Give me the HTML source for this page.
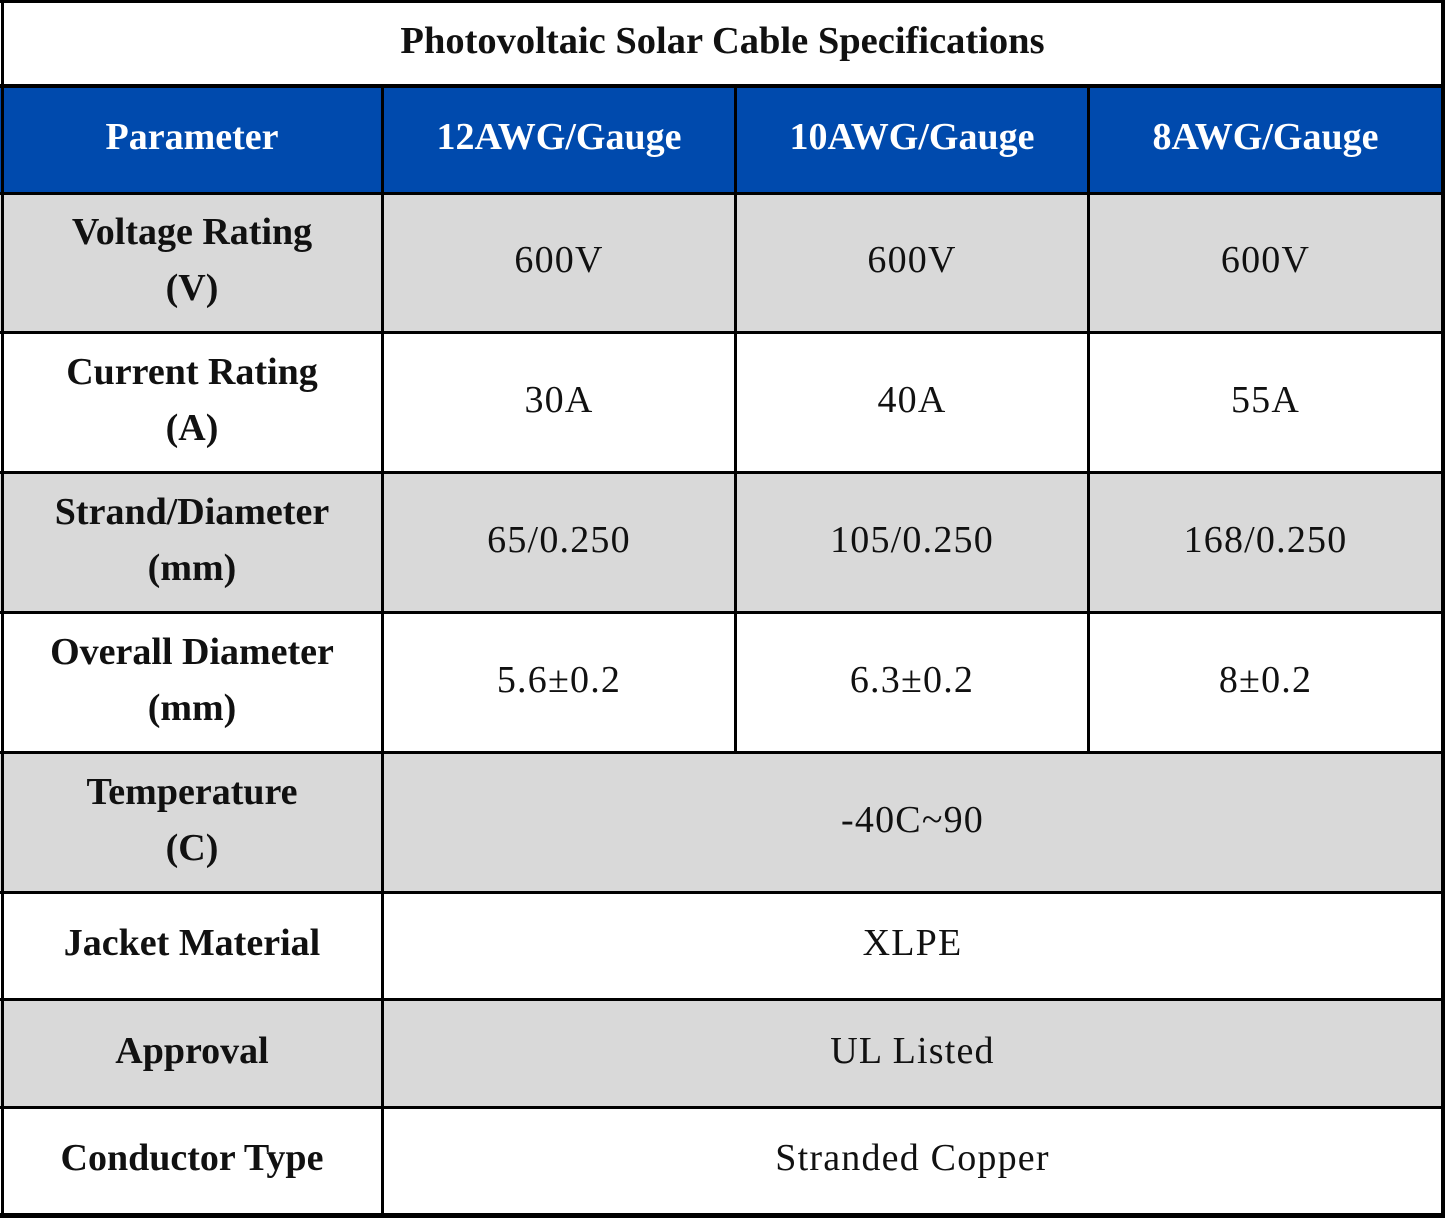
<!DOCTYPE html>
<html><head><meta charset="utf-8"><style>
body{margin:0;width:1445px;height:1218px;background:#fff;position:relative;overflow:hidden;font-family:"Liberation Serif",serif;}
.c{position:absolute;display:flex;align-items:center;justify-content:center;text-align:center;line-height:56px;font-size:38px;color:#111;letter-spacing:1.2px;}
.b{font-weight:bold;letter-spacing:0;}
.l{position:absolute;background:#000;}
.bg{position:absolute;}
</style></head><body>
<div class="bg" style="left:0;top:86px;width:1445px;height:108px;background:#004aad"></div>
<div class="bg" style="left:0;top:194px;width:1445px;height:139px;background:#d9d9d9"></div>
<div class="bg" style="left:0;top:473px;width:1445px;height:140px;background:#d9d9d9"></div>
<div class="bg" style="left:0;top:753px;width:1445px;height:140px;background:#d9d9d9"></div>
<div class="bg" style="left:0;top:1000px;width:1445px;height:108px;background:#d9d9d9"></div>
<div class="l" style="left:0;top:0;width:1445px;height:3px"></div>
<div class="l" style="left:0;top:84px;width:1445px;height:4px"></div>
<div class="l" style="left:0;top:192px;width:1445px;height:3px"></div>
<div class="l" style="left:0;top:331px;width:1445px;height:3px"></div>
<div class="l" style="left:0;top:471px;width:1445px;height:3px"></div>
<div class="l" style="left:0;top:611px;width:1445px;height:3px"></div>
<div class="l" style="left:0;top:751px;width:1445px;height:3px"></div>
<div class="l" style="left:0;top:891px;width:1445px;height:3px"></div>
<div class="l" style="left:0;top:998px;width:1445px;height:3px"></div>
<div class="l" style="left:0;top:1106px;width:1445px;height:3px"></div>
<div class="l" style="left:0;top:1213px;width:1445px;height:5px"></div>
<div class="l" style="left:1px;top:0;width:3px;height:1218px"></div>
<div class="l" style="left:1441px;top:0;width:4px;height:1218px"></div>
<div class="l" style="left:381px;top:86px;width:3px;height:1130px"></div>
<div class="l" style="left:734px;top:86px;width:3px;height:667px"></div>
<div class="l" style="left:1087px;top:86px;width:3px;height:667px"></div>
<div class="c b" style="left:0;top:0;width:1445px;height:81px;font-size:38.5px">Photovoltaic Solar Cable Specifications</div>
<div class="c b" style="left:3px;top:85px;width:378px;height:104px;color:#fff">Parameter</div>
<div class="c b" style="left:384px;top:85px;width:350px;height:104px;color:#fff">12AWG/Gauge</div>
<div class="c b" style="left:737px;top:85px;width:350px;height:104px;color:#fff">10AWG/Gauge</div>
<div class="c b" style="left:1090px;top:85px;width:351px;height:104px;color:#fff">8AWG/Gauge</div>
<div class="c b" style="left:3px;top:192px;width:378px;height:136px">Voltage Rating<br>(V)</div>
<div class="c" style="left:384px;top:192px;width:350px;height:136px">600V</div>
<div class="c" style="left:737px;top:192px;width:350px;height:136px">600V</div>
<div class="c" style="left:1090px;top:192px;width:351px;height:136px">600V</div>
<div class="c b" style="left:3px;top:331px;width:378px;height:137px">Current Rating<br>(A)</div>
<div class="c" style="left:384px;top:331px;width:350px;height:137px">30A</div>
<div class="c" style="left:737px;top:331px;width:350px;height:137px">40A</div>
<div class="c" style="left:1090px;top:331px;width:351px;height:137px">55A</div>
<div class="c b" style="left:3px;top:471px;width:378px;height:137px">Strand/Diameter<br>(mm)</div>
<div class="c" style="left:384px;top:471px;width:350px;height:137px">65/0.250</div>
<div class="c" style="left:737px;top:471px;width:350px;height:137px">105/0.250</div>
<div class="c" style="left:1090px;top:471px;width:351px;height:137px">168/0.250</div>
<div class="c b" style="left:3px;top:611px;width:378px;height:137px">Overall Diameter<br>(mm)</div>
<div class="c" style="left:384px;top:611px;width:350px;height:137px">5.6±0.2</div>
<div class="c" style="left:737px;top:611px;width:350px;height:137px">6.3±0.2</div>
<div class="c" style="left:1090px;top:611px;width:351px;height:137px">8±0.2</div>
<div class="c b" style="left:3px;top:751px;width:378px;height:137px">Temperature<br>(C)</div>
<div class="c" style="left:384px;top:751px;width:1057px;height:137px">-40C~90</div>
<div class="c b" style="left:3px;top:891px;width:378px;height:104px">Jacket Material</div>
<div class="c" style="left:384px;top:891px;width:1057px;height:104px">XLPE</div>
<div class="c b" style="left:3px;top:998px;width:378px;height:105px">Approval</div>
<div class="c" style="left:384px;top:998px;width:1057px;height:105px">UL Listed</div>
<div class="c b" style="left:3px;top:1106px;width:378px;height:104px">Conductor Type</div>
<div class="c" style="left:384px;top:1106px;width:1057px;height:104px">Stranded Copper</div>
</body></html>
